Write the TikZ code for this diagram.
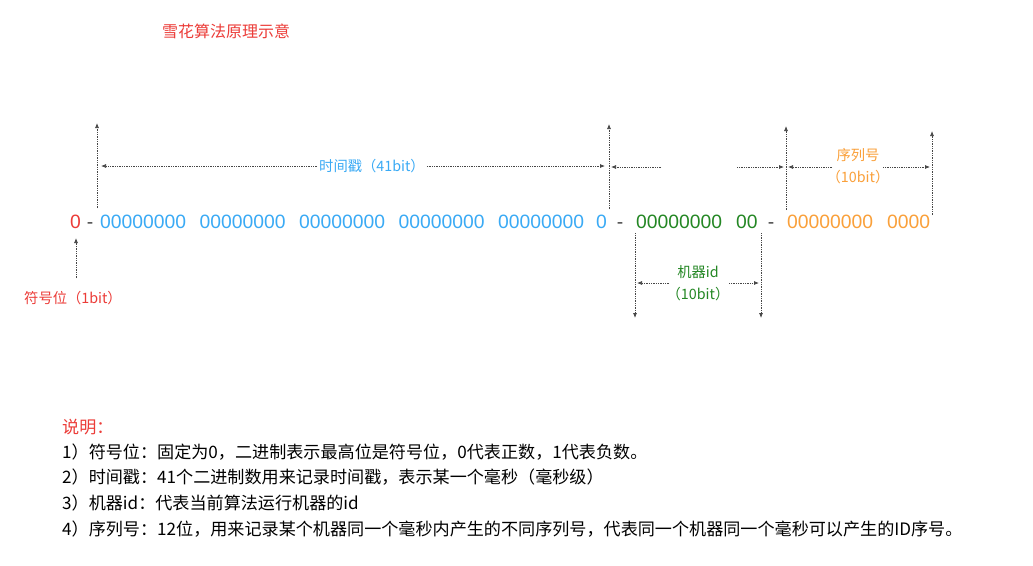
\documentclass[tikz,border=0pt]{standalone}
\usepackage{fontspec}
\setmainfont{Liberation Sans}
\newfontfamily\cjk{Noto Sans CJK SC}
\usetikzlibrary{arrows.meta}
\definecolor{cred}{RGB}{236,60,56}
\definecolor{cblue}{RGB}{58,170,245}
\definecolor{cgreen}{RGB}{36,135,36}
\definecolor{corange}{RGB}{250,160,58}
\definecolor{cdim}{RGB}{70,70,70}
\tikzset{
  dim/.style={densely dotted, line width=0.75pt, color=cdim, -{Latex[length=5pt,width=4pt]}},
  digits/.style={inner sep=0pt, anchor=base west, font=\fontsize{19.3}{22}\selectfont},
  sep/.style={inner sep=0pt, anchor=base, font=\fontsize{19.3}{22}\selectfont, text=cdim},
  lbl/.style={inner sep=2pt, font=\cjk\fontsize{14.3}{17}\selectfont},
  note/.style={inner sep=0pt, anchor=west, font=\cjk\fontsize{17.1}{20}\selectfont},
}
\begin{document}
\begin{tikzpicture}[x=1pt,y=-1pt]
\useasboundingbox[fill=white] (0,0) rectangle (1033,565);

% title
\node[lbl, text=cred, font=\cjk\fontsize{16}{19}\selectfont] (title) at (226,31) {雪花算法原理示意};

% bit row
\node[digits, text=cred] (s0) at (70,228) {0};
\node[sep] (d1) at (90,228) {-};
\node[digits, text=cblue] (b1) at (100,228) {00000000};
\node[digits, text=cblue] (b2) at (199.5,228) {00000000};
\node[digits, text=cblue] (b3) at (299,228) {00000000};
\node[digits, text=cblue] (b4) at (398.5,228) {00000000};
\node[digits, text=cblue] (b5) at (498,228) {00000000};
\node[digits, text=cblue] (b6) at (596,228) {0};
\node[sep] (d2) at (620,228) {-};
\node[digits, text=cgreen] (g1) at (636,228) {00000000};
\node[digits, text=cgreen] (g2) at (736,228) {00};
\node[sep] (d3) at (771,228) {-};
\node[digits, text=corange] (o1) at (787,228) {00000000};
\node[digits, text=corange] (o2) at (887,228) {0000};

% vertical marker lines
\coordinate (v1b) at (97,208);  \coordinate (v1t) at (97,123);
\coordinate (v2b) at (609,209); \coordinate (v2t) at (609,124);
\coordinate (v3b) at (786,210); \coordinate (v3t) at (786,126);
\coordinate (v4b) at (932,215); \coordinate (v4t) at (932,131);
\draw[dim] (v1b) -- (v1t);
\draw[dim] (v2b) -- (v2t);
\draw[dim] (v3b) -- (v3t);
\draw[dim] (v4b) -- (v4t);

% timestamp
\node[lbl, text=cblue] (tsl) at (372,166) {时间戳（41bit）};
\coordinate (tsL) at (101,166);
\coordinate (tsR) at (605,166);
\draw[dim] (tsl.west) -- (tsL);
\draw[dim] (tsl.east) -- (tsR);

% odd segments between timestamp and sequence
\coordinate (m1a) at (661,167); \coordinate (m1b) at (611,167);
\coordinate (m2a) at (737,167); \coordinate (m2b) at (784,167);
\draw[dim] (m1a) -- (m1b);
\draw[dim] (m2a) -- (m2b);

% sequence number
\node[lbl, text=corange] (sql) at (858,155) {序列号};
\node[lbl, text=corange] (sqb) at (858,177) {（10bit）};
\coordinate (sqL) at (788,167);
\coordinate (sqR) at (930,167);
\coordinate (sqLa) at (832,167);
\coordinate (sqRa) at (883,167);
\draw[dim] (sqLa) -- (sqL);
\draw[dim] (sqRa) -- (sqR);

% machine id
\coordinate (w1t) at (635,233); \coordinate (w1b) at (635,318);
\coordinate (w2t) at (761,233); \coordinate (w2b) at (761,318);
\draw[dim] (w1t) -- (w1b);
\draw[dim] (w2t) -- (w2b);
\node[lbl, text=cgreen] (mil) at (698,272) {机器id};
\node[lbl, text=cgreen] (mib) at (698,294) {（10bit）};
\coordinate (miLa) at (669,283); \coordinate (miL) at (637,283);
\coordinate (miRa) at (729,283); \coordinate (miR) at (759,283);
\draw[dim] (miLa) -- (miL);
\draw[dim] (miRa) -- (miR);

% sign bit
\node[lbl, text=cred] (sgl) at (73,298) {符号位（1bit）};
\coordinate (sgb) at (76,278);
\coordinate (sgt) at (76,238);
\draw[dim] (sgb) -- (sgt);

% notes
\node[note, text=cred] (n0) at (62,427) {说明：};
\node[note] (n1) at (62,452) {1）符号位：固定为0，二进制表示最高位是符号位，0代表正数，1代表负数。};
\node[note] (n2) at (62,477) {2）时间戳：41个二进制数用来记录时间戳，表示某一个毫秒（毫秒级）};
\node[note] (n3) at (62,503) {3）机器id：代表当前算法运行机器的id};
\node[note] (n4) at (62,529) {4）序列号：12位，用来记录某个机器同一个毫秒内产生的不同序列号，代表同一个机器同一个毫秒可以产生的ID序号。};
\end{tikzpicture}
\end{document}
